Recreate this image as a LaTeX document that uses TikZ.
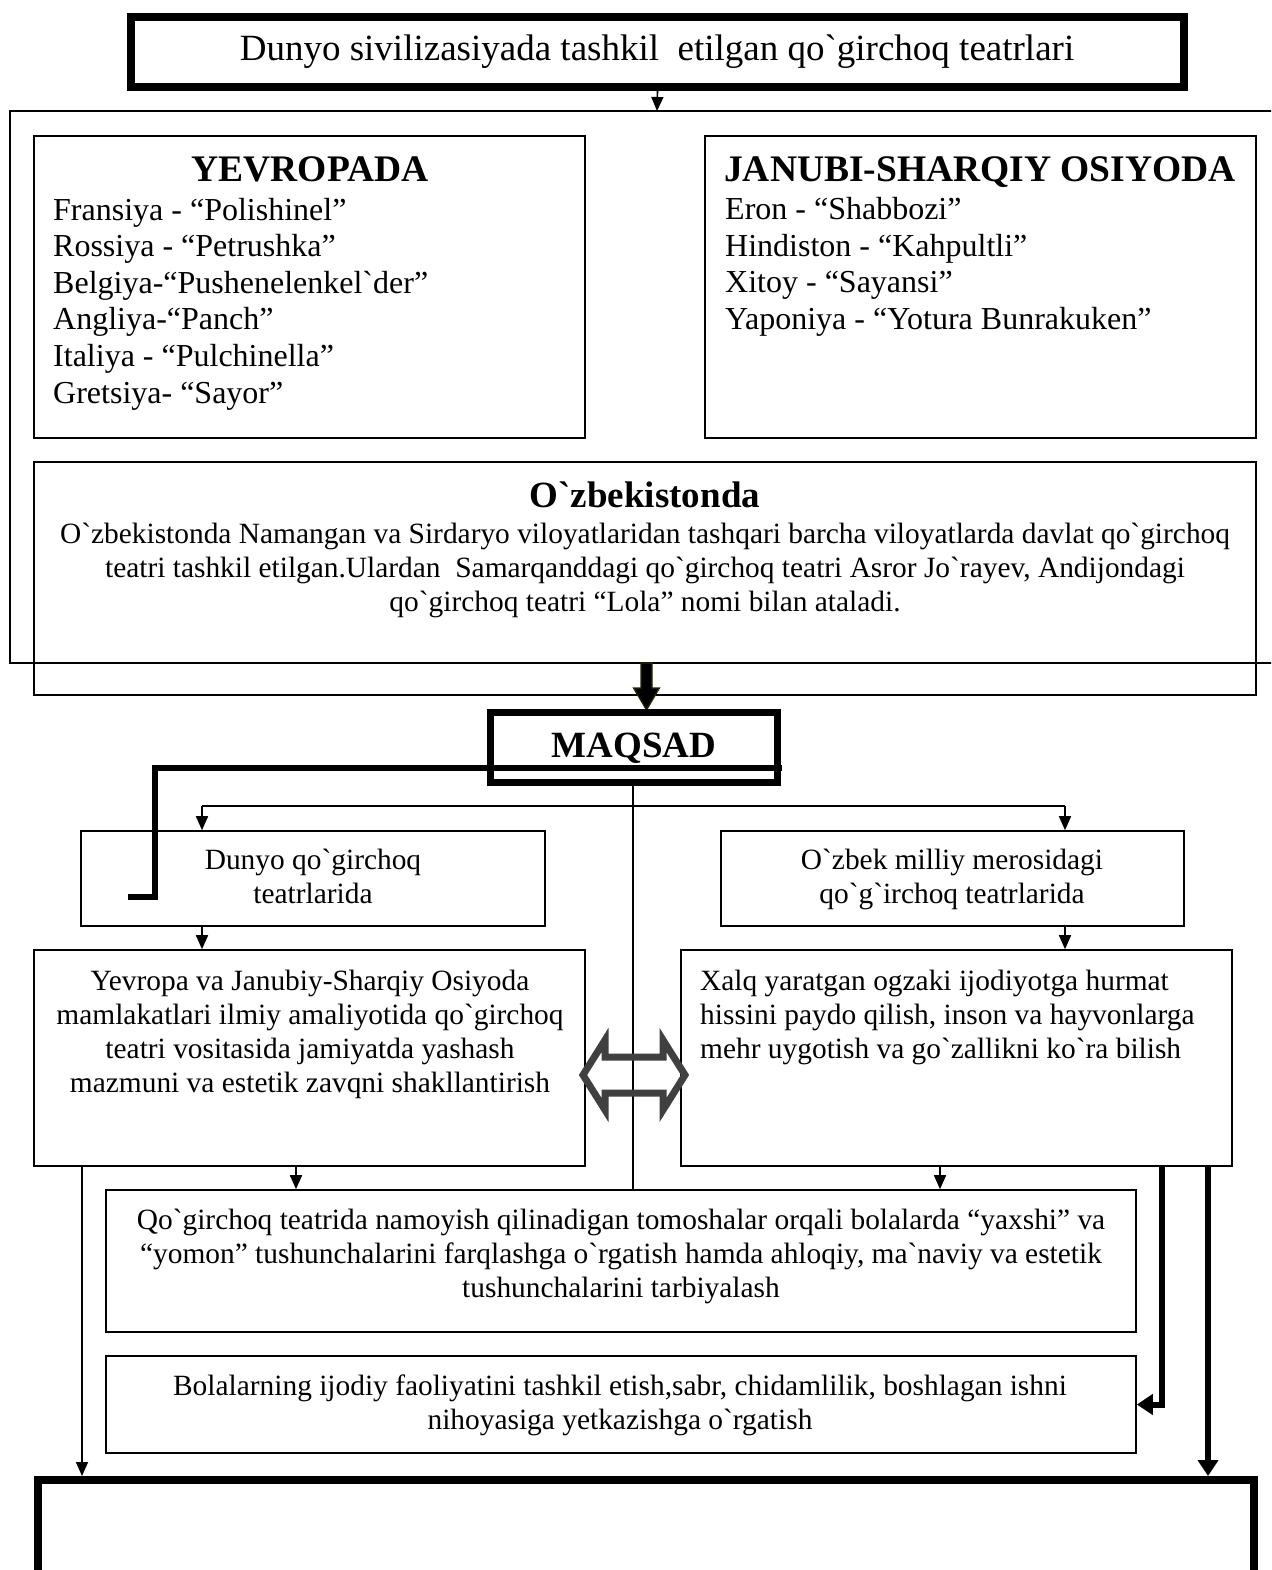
\documentclass[tikz,border=0pt]{standalone}
\usepackage{fontspec}
\usepackage{graphicx}
\setmainfont{Liberation Serif}[Ligatures=TeXOff]
\usetikzlibrary{arrows.meta}
\definecolor{dgray}{HTML}{404040}
\definecolor{olive}{HTML}{2B2B00}
\begin{document}
\begin{tikzpicture}[x=1pt,y=-1pt,
  box/.style={draw,line width=1.6pt,inner sep=0pt},
  heavybox/.style={draw,line width=8pt,inner sep=0pt},
  txt/.style={inner sep=0pt,font=\fontsize{29.4}{34}\selectfont},
  listtxt/.style={inner sep=0pt,align=left,font=\fontsize{32}{36.6}\selectfont},
  headtxt/.style={inner sep=0pt,font=\fontsize{37.5}{40}\selectfont\bfseries},
  arr/.style={line width=1.6pt,-{Triangle[length=14pt,width=12pt]}},
  bigarr/.style={line width=6pt,-{Triangle[length=16pt,width=20pt]}},
  heavyline/.style={line width=6.5pt,line join=miter},
]
\useasboundingbox (0,0) rectangle (1271,1570);
\clip (0,0) rectangle (1271,1570);
\fill[white] (0,0) rectangle (1271,1570);

% top title box
\node[heavybox,minimum width=1053,minimum height=70] (top) at (657.5,52) {};
\node[inner sep=0pt,font=\fontsize{37}{40}\selectfont] (toptxt) at (657,52)
  {Dunyo sivilizasiyada tashkil\ \ etilgan qo`girchoq teatrlari};

% big open frame
\coordinate (bigN) at (657,111);
\draw[line width=2pt] (1275,111) -- (10,111) -- (10,663) -- (1275,663);
\draw[arr] (top.south) -- (bigN);

% Europe box
\node[box,minimum width=551,minimum height=302] (eu) at (309.5,287) {};
\node[headtxt] (eut) at (310,169) {YEVROPADA};
\node[listtxt,anchor=west] (eul) at (53,304) {Fransiya - “Polishinel”\\
Rossiya - “Petrushka”\\
Belgiya-“Pushenelenkel`der”\\
Angliya-“Panch”\\
Italiya - “Pulchinella”\\
Gretsiya- “Sayor”};

% Asia box
\node[box,minimum width=551,minimum height=302] (as) at (980.5,287) {};
\node[headtxt] (ast) at (980,172) {JANUBI-SHARQIY OSIYODA};
\node[listtxt,anchor=west] (asl) at (725,267) {Eron - “Shabbozi”\\
Hindiston - “Kahpultli”\\
Xitoy - “Sayansi”\\
Yaponiya - “Yotura Bunrakuken”};

% Uzbekistan box
\node[box,minimum width=1222,minimum height=233] (uz) at (645,578.5) {};
\node[inner sep=0pt,font=\fontsize{37}{40}\selectfont\bfseries] (uzt) at (645,495) {O`zbekistonda};
\node[txt,align=center] (uzl) at (645,570.5) {O`zbekistonda Namangan va Sirdaryo viloyatlaridan tashqari barcha viloyatlarda davlat qo`girchoq\\
teatri tashkil etilgan.Ulardan\ \ Samarqanddagi qo`girchoq teatri Asror Jo`rayev, Andijondagi\\
qo`girchoq teatri “Lola” nomi bilan ataladi.};

% block arrow to MAQSAD
\draw[olive,line width=1.2pt,fill=black,line join=miter]
  (641,663) -- (652,663) -- (652,688) -- (659.5,688) -- (646.5,710) -- (633.5,688) -- (641,688) -- cycle;

% MAQSAD
\node[draw,line width=7pt,inner sep=0pt,minimum width=287,minimum height=70] (maq) at (634,747.5) {};
\node[inner sep=0pt,font=\fontsize{37}{40}\selectfont\bfseries] (maqt) at (634,748) {MAQSAD};

% thick L line
\coordinate (Ls) at (782,768);
\coordinate (Le) at (128,897);
\draw[heavyline] (Ls) -- (155,768) -- (155,897) -- (Le);

% second row
\node[box,minimum width=464,minimum height=95] (dq) at (313,878.5) {};
\node[txt,align=center] (dqt) at (313,876) {Dunyo qo`girchoq\\ teatrlarida};
\node[box,minimum width=463,minimum height=95] (om) at (952.5,878.5) {};
\node[txt,align=center] (omt) at (952,879) {O`zbek milliy merosidagi\\ qo`g`irchoq teatrlarida};

% third row
\node[box,minimum width=551,minimum height=216] (yev) at (309.5,1058) {};
\node[txt,align=center] (yevt) at (310,1034) {Yevropa va Janubiy-Sharqiy Osiyoda\\
mamlakatlari ilmiy amaliyotida qo`girchoq\\
teatri vositasida jamiyatda yashash\\
mazmuni va estetik zavqni shakllantirish};
\node[box,minimum width=551,minimum height=216] (xalq) at (956.5,1058) {};
\node[txt,align=left,anchor=west] (xalqt) at (700,1017) {Xalq yaratgan ogzaki ijodiyotga hurmat\\
hissini paydo qilish, inson va hayvonlarga\\
mehr uygotish va go`zallikni ko`ra bilish};

% fourth row
\node[box,minimum width=1030,minimum height=142] (qog) at (621,1261) {};
\node[txt,align=center] (qogt) at (621,1256) {Qo`girchoq teatrida namoyish qilinadigan tomoshalar orqali bolalarda “yaxshi” va\\
“yomon” tushunchalarini farqlashga o`rgatish hamda ahloqiy, ma`naviy va estetik\\
tushunchalarini tarbiyalash};
\node[box,minimum width=1030,minimum height=97] (bol) at (621,1404.5) {};
\node[txt,align=center] (bolt) at (620,1405.5) {Bolalarning ijodiy faoliyatini tashkil etish,sabr, chidamlilik, boshlagan ishni\\
nihoyasiga yetkazishga o`rgatish};

% bottom box
\node[heavybox,minimum width=1216,minimum height=130] (bot) at (646,1545) {};

% connectors
\draw[line width=1.6pt] (maq.south -| 633,0) -- (qog.north -| 633,0);
\coordinate (brL) at (202,806);
\coordinate (brR) at (1065,806);
\draw[line width=1.6pt] (brL) -- (brR);
\draw[arr] (brL) -- (brL |- dq.north);
\draw[arr] (brR) -- (brR |- om.north);
\draw[arr] (dq.south -| brL) -- (yev.north -| brL);
\draw[arr] (om.south -| brR) -- (xalq.north -| brR);
\draw[arr] (yev.south -| 296,0) -- (qog.north -| 296,0);
\draw[arr] (xalq.south -| 940,0) -- (qog.north -| 940,0);
\draw[arr] (yev.south -| 82,0) -- (bot.north -| 82,0);
\draw[bigarr,line join=miter] (xalq.south -| 1162,0) |- (bol.east);
\draw[bigarr] (xalq.south -| 1208,0) -- (bot.north -| 1208,0);

% double arrow
\draw[dgray,line width=7pt,line join=miter]
  (583,1075) -- (605,1040) -- (605,1057) -- (663,1057) -- (663,1040) -- (685,1075)
  -- (663,1110) -- (663,1093) -- (605,1093) -- (605,1110) -- cycle;
\end{tikzpicture}
\end{document}
